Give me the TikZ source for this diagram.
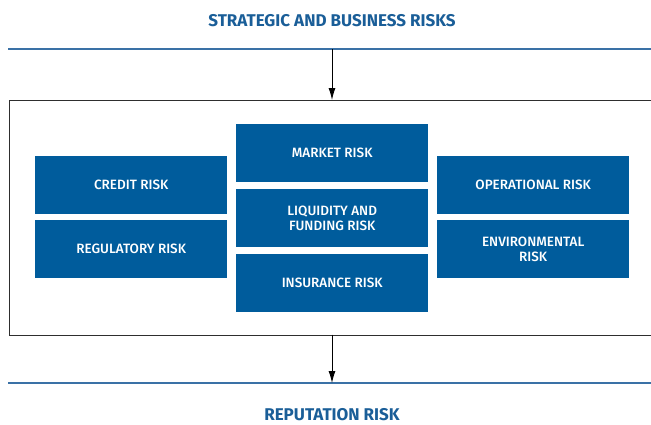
\documentclass[tikz,border=0pt]{standalone}
\usepackage{fontspec}
\setmainfont{Fira Sans}
\newfontfamily\medfont{Fira Sans Medium}
\usetikzlibrary{arrows.meta}
\definecolor{boxblue}{HTML}{005C9C}
\definecolor{titleblue}{HTML}{1A5E98}
\definecolor{lineblue}{HTML}{3A71A6}
\definecolor{framegray}{HTML}{2E2E2E}
\tikzset{
  riskbox/.style={fill=boxblue, text=white, minimum width=192pt, minimum height=58pt,
    inner sep=0pt, align=center, font=\medfont\fontsize{13.5}{14.5}\selectfont, anchor=north west},
  titletext/.style={text=titleblue, font=\bfseries\fontsize{17}{19}\selectfont, inner sep=0pt},
  rule/.style={draw=lineblue, line width=1.3pt},
  frame/.style={draw=framegray, line width=1.4pt},
  flow/.style={draw=black, line width=0.9pt, -{Latex[length=12pt,width=7pt]}}
}
\begin{document}
\begin{tikzpicture}[x=1pt,y=-1pt]
\useasboundingbox (0,0) rectangle (651,424);
\clip (0,0) rectangle (651,424);
% titles
\node[titletext] (top) at (332,20.5) {STRATEGIC AND BUSINESS RISKS};
\node[titletext] (bottom) at (332,415) {REPUTATION RISK};
% rules
\coordinate (tl) at (8,49); \coordinate (tr) at (660,49);
\coordinate (bl) at (8,383); \coordinate (br) at (660,383);
\draw[rule] (tl) -- (tr);
\draw[rule] (bl) -- (br);
% frame
\node[frame, minimum width=660pt, minimum height=234.5pt, inner sep=0pt, anchor=north west] (fr) at (9,100) {};
% boxes
\node[riskbox] (credit) at (35,156) {CREDIT RISK};
\node[riskbox] (reg) at (35,220) {REGULATORY RISK};
\node[riskbox] (market) at (236,124) {MARKET RISK};
\node[riskbox] (liq) at (236,189) {LIQUIDITY AND\\FUNDING RISK};
\node[riskbox] (ins) at (236,254) {INSURANCE RISK};
\node[riskbox] (oper) at (437,156) {OPERATIONAL RISK};
\node[riskbox] (env) at (437,220) {ENVIRONMENTAL\\RISK};
% arrows
\coordinate (a1) at (332,49);
\coordinate (a2) at (332,100);
\coordinate (b1) at (332,334.5);
\coordinate (b2) at (332,383);
\draw[flow] (a1) -- (a2);
\draw[flow] (b1) -- (b2);
\end{tikzpicture}
\end{document}
